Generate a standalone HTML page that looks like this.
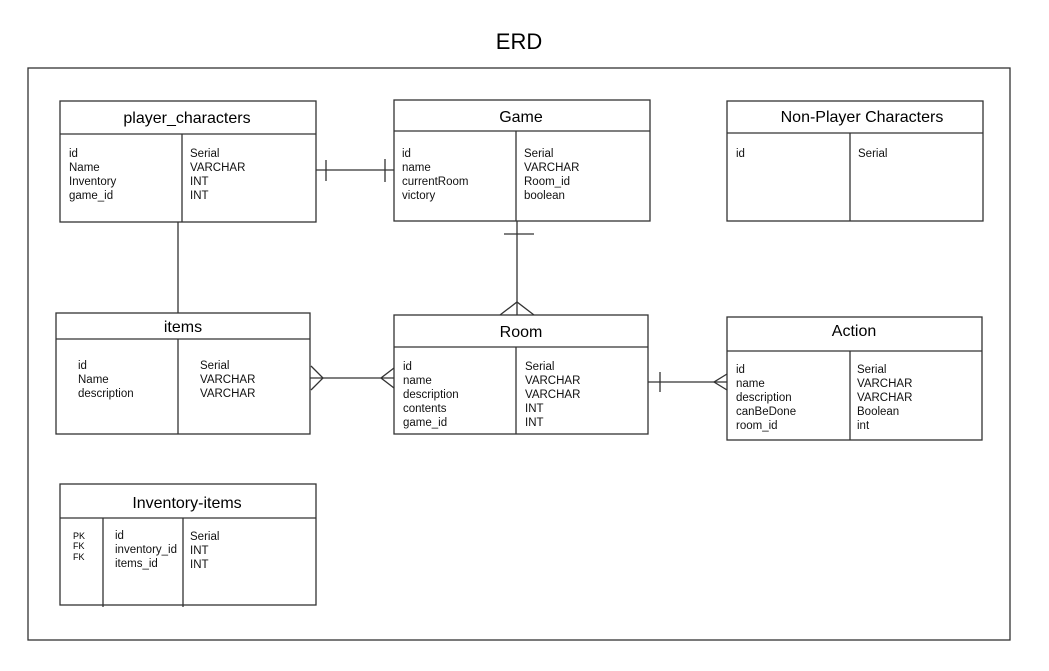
<!DOCTYPE html>
<html><head><meta charset="utf-8"><style>
html,body{margin:0;padding:0;background:#fff;}
svg{display:block;font-family:"Liberation Sans",sans-serif;}
.b{fill:#fff;stroke:#333;stroke-width:1.3}
.l{stroke:#333;stroke-width:1.3;fill:none}
.t{font-size:16px;fill:#000;text-anchor:middle}
.f{font-size:11.5px;fill:#111}
</style></head><body>
<svg width="1049" height="671" viewBox="0 0 1049 671">
<text x="519" y="49" font-size="22" text-anchor="middle">ERD</text>
<rect x="28" y="68" width="982" height="572" class="b"/>

<!-- connectors -->
<line x1="316" y1="170" x2="394" y2="170" class="l"/>
<line x1="326" y1="160" x2="326" y2="181" class="l"/>
<line x1="385" y1="159" x2="385" y2="182" class="l"/>
<line x1="178" y1="222" x2="178" y2="313" class="l"/>
<line x1="517" y1="221" x2="517" y2="315" class="l"/>
<line x1="504" y1="234" x2="534" y2="234" class="l"/>
<path d="M500 315 L517 302 L534 315" class="l"/>
<line x1="310" y1="378" x2="394" y2="378" class="l"/>
<path d="M311 366 L323 378 L311 390" class="l"/>
<path d="M394 368 L381 378 L394 388" class="l"/>
<line x1="648" y1="382" x2="727" y2="382" class="l"/>
<line x1="660" y1="372" x2="660" y2="392" class="l"/>
<path d="M727 374 L714 382 L727 390" class="l"/>

<!-- player_characters -->
<rect x="60" y="101" width="256" height="121" class="b"/>
<line x1="60" y1="134" x2="316" y2="134" class="l"/>
<line x1="182" y1="134" x2="182" y2="222" class="l"/>
<text x="187" y="123" class="t">player_characters</text>
<text class="f" x="69" y="157">id</text><text class="f" x="69" y="171">Name</text><text class="f" x="69" y="185">Inventory</text><text class="f" x="69" y="199">game_id</text>
<text class="f" x="190" y="157">Serial</text><text class="f" x="190" y="171">VARCHAR</text><text class="f" x="190" y="185">INT</text><text class="f" x="190" y="199">INT</text>

<!-- Game -->
<rect x="394" y="100" width="256" height="121" class="b"/>
<line x1="394" y1="131" x2="650" y2="131" class="l"/>
<line x1="516" y1="131" x2="516" y2="221" class="l"/>
<text x="521" y="122" class="t">Game</text>
<text class="f" x="402" y="157">id</text><text class="f" x="402" y="171">name</text><text class="f" x="402" y="185">currentRoom</text><text class="f" x="402" y="199">victory</text>
<text class="f" x="524" y="157">Serial</text><text class="f" x="524" y="171">VARCHAR</text><text class="f" x="524" y="185">Room_id</text><text class="f" x="524" y="199">boolean</text>

<!-- NPC -->
<rect x="727" y="101" width="256" height="120" class="b"/>
<line x1="727" y1="133" x2="983" y2="133" class="l"/>
<line x1="850" y1="133" x2="850" y2="221" class="l"/>
<text x="862" y="122" class="t">Non-Player Characters</text>
<text class="f" x="736" y="157">id</text><text class="f" x="858" y="157">Serial</text>

<!-- items -->
<rect x="56" y="313" width="254" height="121" class="b"/>
<line x1="56" y1="339" x2="310" y2="339" class="l"/>
<line x1="178" y1="339" x2="178" y2="434" class="l"/>
<text x="183" y="332" class="t">items</text>
<text class="f" x="78" y="369">id</text><text class="f" x="78" y="383">Name</text><text class="f" x="78" y="397">description</text>
<text class="f" x="200" y="369">Serial</text><text class="f" x="200" y="383">VARCHAR</text><text class="f" x="200" y="397">VARCHAR</text>

<!-- Room -->
<rect x="394" y="315" width="254" height="119" class="b"/>
<line x1="394" y1="347" x2="648" y2="347" class="l"/>
<line x1="516" y1="347" x2="516" y2="434" class="l"/>
<text x="521" y="337" class="t">Room</text>
<text class="f" x="403" y="370">id</text><text class="f" x="403" y="384">name</text><text class="f" x="403" y="398">description</text><text class="f" x="403" y="412">contents</text><text class="f" x="403" y="426">game_id</text>
<text class="f" x="525" y="370">Serial</text><text class="f" x="525" y="384">VARCHAR</text><text class="f" x="525" y="398">VARCHAR</text><text class="f" x="525" y="412">INT</text><text class="f" x="525" y="426">INT</text>

<!-- Action -->
<rect x="727" y="317" width="255" height="123" class="b"/>
<line x1="727" y1="351" x2="982" y2="351" class="l"/>
<line x1="850" y1="351" x2="850" y2="440" class="l"/>
<text x="854" y="336" class="t">Action</text>
<text class="f" x="736" y="373">id</text><text class="f" x="736" y="387">name</text><text class="f" x="736" y="401">description</text><text class="f" x="736" y="415">canBeDone</text><text class="f" x="736" y="429">room_id</text>
<text class="f" x="857" y="373">Serial</text><text class="f" x="857" y="387">VARCHAR</text><text class="f" x="857" y="401">VARCHAR</text><text class="f" x="857" y="415">Boolean</text><text class="f" x="857" y="429">int</text>

<!-- Inventory-items -->
<rect x="60" y="484" width="256" height="121" class="b"/>
<line x1="60" y1="518" x2="316" y2="518" class="l"/>
<line x1="103" y1="518" x2="103" y2="607" class="l" stroke-width="1"/>
<line x1="183" y1="518" x2="183" y2="607" class="l"/>
<text x="187" y="508" class="t">Inventory-items</text>
<text x="73" y="539" font-size="9">PK</text><text x="73" y="549" font-size="9">FK</text><text x="73" y="560" font-size="9">FK</text>
<text class="f" x="115" y="539">id</text><text class="f" x="115" y="553">inventory_id</text><text class="f" x="115" y="567">items_id</text>
<text class="f" x="190" y="540">Serial</text><text class="f" x="190" y="554">INT</text><text class="f" x="190" y="568">INT</text>
</svg>
</body></html>
